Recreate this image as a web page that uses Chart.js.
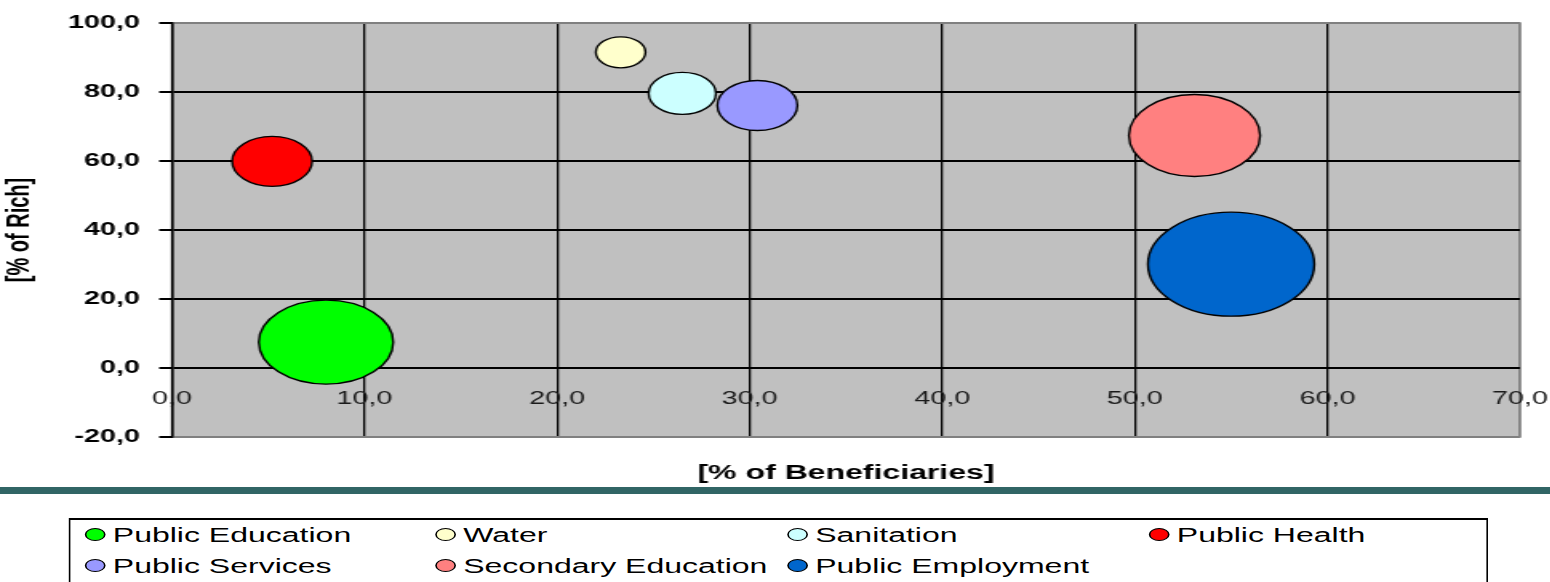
<!DOCTYPE html>
<html>
<head>
<meta charset="utf-8">
<script src="https://cdn.jsdelivr.net/npm/chart.js@4.4.1/dist/chart.umd.min.js"></script>
<style>
  body { margin: 0; width: 1550px; height: 582px; overflow: hidden; background: #fff; position: relative; }
  /* the reference is stretched sideways, so draw narrow and scale x by 1.6 */
  .stretch { position: absolute; left: 0; top: 0; width: 969px; transform: scaleX(1.6); transform-origin: 0 0; }
  #chartWrap { height: 485px; }
  #legendWrap { height: 582px; pointer-events: none; }
  #bar { position: absolute; left: 0; top: 487px; width: 1550px; height: 7px; background: #316565; }
  #legendBox { position: absolute; left: 42.5px; top: 518px; width: 887.5px; height: 90px;
    border-style: solid; border-color: #000; border-width: 2px 1.4px; box-sizing: border-box; background: #fff;
    font-family: "Liberation Sans", Arial, sans-serif; font-size: 20px; color: #000; }
  .item { position: absolute; height: 31px; line-height: 31px; white-space: nowrap; }
  .mark { display: inline-block; width: 11px; height: 11px; border: 1px solid #000; border-radius: 50%;
    vertical-align: middle; margin-right: 5px; position: relative; top: -2px; }
</style>
</head>
<body>
<div id="chartWrap" class="stretch"><canvas id="chart"></canvas></div>
<div id="bar"></div>
<div id="legendWrap" class="stretch"><div id="legendBox"></div></div>
<script>
const seriesNames = ['Public Education', 'Water', 'Sanitation', 'Public Health', 'Public Services', 'Secondary Education', 'Public Employment'];
const beneficiaries = [8.0, 23.3, 26.5, 5.2, 30.4, 53.1, 55.0];   // % of Beneficiaries
const richShare = [7.5, 91.5, 79.6, 59.9, 76.1, 67.4, 30.1];      // % of Rich
const bubbleSizes = [42, 15.5, 21, 25, 25, 41, 52];
const seriesColors = ['#00FF00', '#FFFFCC', '#CCFFFF', '#FF0000', '#9999FF', '#FF8080', '#0066CC'];
const xTicks = [0, 10, 20, 30, 40, 50, 60, 70];
const yTicks = [-20, 0, 20, 40, 60, 80, 100];

const fmt = v => Number(v).toFixed(1).replace('.', ',');
const FONT = '"Liberation Sans", Arial, sans-serif';

const datasets = seriesNames.map((name, i) => ({
    label: name,
    data: [{ x: beneficiaries[i], y: richShare[i], r: bubbleSizes[i] }],
    backgroundColor: seriesColors[i],
    borderColor: '#000',
    borderWidth: 1.4
}));

// grey plot area
const plotBackground = {
    id: 'plotBackground',
    beforeDraw(chart) {
        const { ctx, chartArea: a } = chart;
        ctx.save();
        ctx.fillStyle = '#C0C0C0';
        ctx.fillRect(a.left, a.top, a.right - a.left, a.bottom - a.top);
        ctx.strokeStyle = '#808080';
        ctx.lineWidth = 1.5;
        ctx.strokeRect(a.left, a.top, a.right - a.left, a.bottom - a.top);
        ctx.restore();
    }
};

// outer edges of the plot are grey, inner grid lines black
const edgeGrey = (lo, hi) => (c) => (c.tick && (c.tick.value === lo || c.tick.value === hi) ? '#808080' : '#000');

new Chart(document.getElementById('chart'), {
    type: 'bubble',
    data: { datasets: datasets },
    plugins: [plotBackground],
    options: {
        responsive: true,
        maintainAspectRatio: false,
        animation: false,
        layout: { autoPadding: false, padding: { top: 23, right: 19, left: 0, bottom: 0 } },
        plugins: {
            legend: { display: false },
            tooltip: { enabled: false }
        },
        scales: {
            x: {
                type: 'linear',
                position: { y: 0 },
                min: 0,
                max: 70,
                afterBuildTicks: s => { s.ticks = xTicks.map(v => ({ value: v })); },
                afterFit: s => { s.paddingLeft = 0; s.paddingRight = 0; },
                grid: { color: edgeGrey(-1, 70), lineWidth: 1.3, drawTicks: false },
                border: { display: false },
                ticks: {
                    padding: 20,
                    autoSkip: false,
                    maxRotation: 0,
                    color: '#1a1a1a',
                    font: { family: FONT, size: 18 },
                    callback: v => fmt(v)
                }
            },
            xTitle: {
                type: 'linear',
                axis: 'x',
                position: 'bottom',
                min: 0,
                max: 70,
                afterFit: s => { s.height = 48; s.paddingLeft = 0; s.paddingRight = 0; },
                grid: { display: false },
                border: { display: false },
                ticks: { display: false },
                title: {
                    display: true,
                    text: '[% of Beneficiaries]',
                    color: '#000',
                    font: { family: FONT, size: 20, weight: 'bold' },
                    padding: { top: 0, bottom: 0 }
                }
            },
            y: {
                type: 'linear',
                min: -20,
                max: 100,
                afterBuildTicks: s => { s.ticks = yTicks.map(v => ({ value: v })); },
                afterFit: s => { s.width = 107.5; },
                grid: { color: edgeGrey(-20, 100), lineWidth: 2, tickLength: 8, tickColor: '#000' },
                border: { color: '#000', width: 1.4 },
                ticks: {
                    padding: 12,
                    color: '#000',
                    font: { family: FONT, size: 18, weight: 'bold' },
                    callback: v => fmt(v)
                },
                title: {
                    display: true,
                    text: '[% of Rich]',
                    color: '#000',
                    font: { family: FONT, size: 20, weight: 'bold' },
                    padding: 0
                }
            }
        }
    }
});

// legend box under the chart, 4 columns
const colLeft = [9, 228, 448, 674];
const box = document.getElementById('legendBox');
seriesNames.forEach((name, i) => {
    const item = document.createElement('div');
    item.className = 'item';
    item.style.left = colLeft[i % 4] + 'px';
    item.style.top = (Math.floor(i / 4) * 31) + 'px';
    const mark = document.createElement('span');
    mark.className = 'mark';
    mark.style.background = seriesColors[i];
    item.appendChild(mark);
    item.appendChild(document.createTextNode(name));
    box.appendChild(item);
});
</script>
</body>
</html>
